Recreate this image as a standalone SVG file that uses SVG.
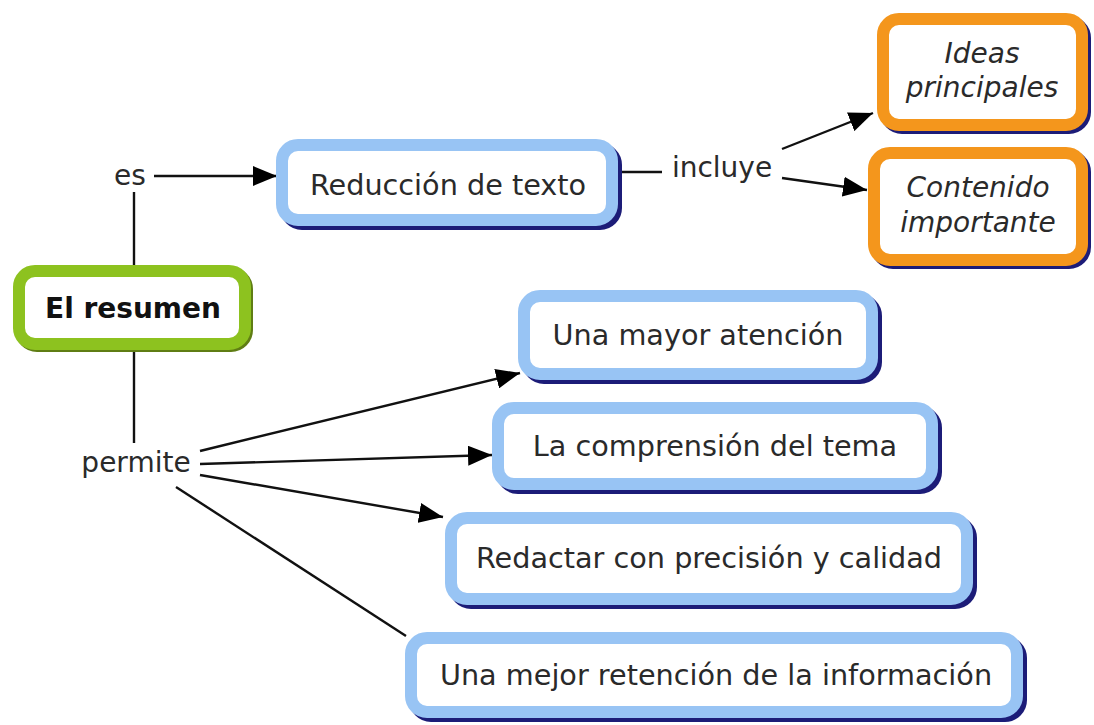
<svg xmlns="http://www.w3.org/2000/svg" width="1094" height="725" viewBox="0 0 1094 725">
<style>
.sh{fill:#1c1c78;stroke:#1c1c78;stroke-width:12}
.bl{fill:#ffffff;stroke:#98c4f4;stroke-width:12}
.or{fill:#ffffff;stroke:#f4961c;stroke-width:12}
.gr{fill:#ffffff;stroke:#8dc21f;stroke-width:12}
.shg{fill:#5f7d14;stroke:#5f7d14;stroke-width:12}
text{font-family:"DejaVu Sans",Verdana,sans-serif;font-size:28.7px;fill:#2a2a2a;text-anchor:middle}
.lb{font-size:28px}
.b{font-weight:bold;fill:#111;font-size:28px}
.i{font-style:italic;font-size:28px}
.c line{stroke:#111;stroke-width:2.4}
</style>
<defs>
<marker id="ah" viewBox="0 0 24 20" refX="24" refY="10" markerWidth="24" markerHeight="20" markerUnits="userSpaceOnUse" orient="auto">
<path d="M0,0 L24,10 L0,20 Z" fill="#000"/>
</marker>
</defs>
<rect width="1094" height="725" fill="#ffffff"/>
<g class="c" id="connectors">
<line x1="134" y1="192" x2="134" y2="265"/>
<line x1="134" y1="352" x2="134" y2="443"/>
<line x1="154" y1="176" x2="277" y2="176" marker-end="url(#ah)"/>
<line x1="622" y1="172" x2="662" y2="172"/>
<line x1="782" y1="149" x2="873" y2="113" marker-end="url(#ah)"/>
<line x1="782" y1="178" x2="867" y2="190" marker-end="url(#ah)"/>
<line x1="200" y1="451" x2="520" y2="373" marker-end="url(#ah)"/>
<line x1="200" y1="464" x2="492" y2="455" marker-end="url(#ah)"/>
<line x1="200" y1="475" x2="443" y2="517" marker-end="url(#ah)"/>
<line x1="176" y1="487" x2="406" y2="636"/>
</g>
<g id="lbl-es"><text class="lb" x="130" y="185">es</text></g>
<g id="lbl-incluye"><text class="lb" x="722" y="177">incluye</text></g>
<g id="lbl-permite"><text class="lb" x="136" y="472">permite</text></g>
<g id="n-resumen">
<rect class="shg" x="21" y="273" width="226" height="73" rx="16"/>
<rect class="gr" x="19" y="271" width="226" height="73" rx="16"/>
<text class="b" x="133" y="318">El resumen</text>
</g>
<g id="n-reduccion">
<rect class="sh" x="286" y="149" width="330" height="75" rx="16"/>
<rect class="bl" x="282" y="145" width="330" height="75" rx="16"/>
<text x="448" y="195">Reducción de texto</text>
</g>
<g id="n-ideas">
<rect class="sh" x="886" y="22" width="199" height="106" rx="16"/>
<rect class="or" x="883" y="19" width="199" height="106" rx="16"/>
<text class="i" x="982" y="63">Ideas</text>
<text class="i" x="982" y="97">principales</text>
</g>
<g id="n-contenido">
<rect class="sh" x="877" y="156" width="208" height="107" rx="16"/>
<rect class="or" x="874" y="153" width="208" height="107" rx="16"/>
<text class="i" x="978" y="197">Contenido</text>
<text class="i" x="978" y="232">importante</text>
</g>
<g id="n-atencion">
<rect class="sh" x="528" y="300" width="348" height="78" rx="16"/>
<rect class="bl" x="524" y="296" width="348" height="78" rx="16"/>
<text x="698" y="345">Una mayor atención</text>
</g>
<g id="n-comprension">
<rect class="sh" x="502" y="412" width="434" height="76" rx="16"/>
<rect class="bl" x="498" y="408" width="434" height="76" rx="16"/>
<text x="715" y="456">La comprensión del tema</text>
</g>
<g id="n-redactar">
<rect class="sh" x="455" y="522" width="516" height="81" rx="16"/>
<rect class="bl" x="451" y="518" width="516" height="81" rx="16"/>
<text x="709" y="568">Redactar con precisión y calidad</text>
</g>
<g id="n-retencion">
<rect class="sh" x="415" y="642" width="606" height="74" rx="16"/>
<rect class="bl" x="411" y="638" width="606" height="74" rx="16"/>
<text x="716" y="685">Una mejor retención de la información</text>
</g>
</svg>
